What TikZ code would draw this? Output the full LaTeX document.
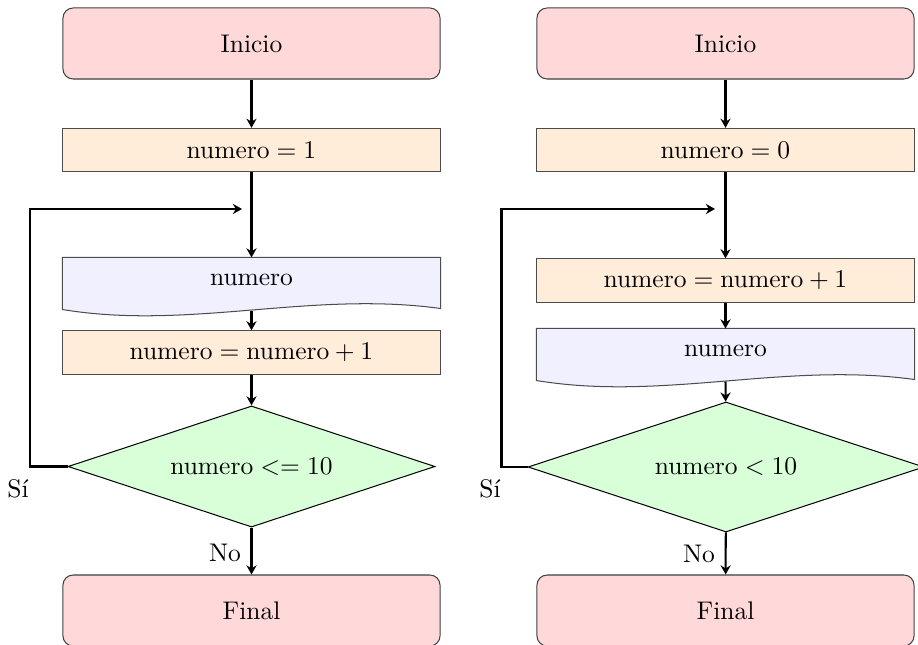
\documentclass[tikz,border=0pt]{standalone}
\usetikzlibrary{shapes.geometric,arrows.meta,backgrounds,calc}
\begin{document}
\begin{tikzpicture}[x=0.3922pt,y=-0.3922pt,
  term/.style={rectangle,rounded corners=4pt,draw=black!75,fill=red!15,minimum width=147.9pt,minimum height=27.85pt,inner sep=0pt,line width=0.4pt},
  proc/.style={rectangle,draw=black!70,fill=orange!15,minimum width=147.9pt,minimum height=17pt,inner sep=0pt,line width=0.4pt},
  docnode/.style={rectangle,minimum width=147.9pt,minimum height=20.4pt,inner sep=0pt,text depth=3pt},
  docshape/.style={draw=black!70,fill=blue!6,line width=0.4pt},
  dec/.style={diamond,draw=black,fill=green!15,aspect=3,inner sep=0pt,line width=0.4pt},
  arr/.style={-{Stealth[length=3.6pt,width=4pt,inset=1.2pt]},line width=0.8pt},
  lbl/.style={inner sep=0pt}]
\useasboundingbox (0,0) rectangle (918,645);

% ---------- left chart ----------
\node[term] (s1) at (251.5,43.5) {Inicio};
\node[proc] (p1) at (251.5,150) {$\mathrm{numero} = 1$};
\coordinate (j1) at (242,209);
\node[docnode] (d1) at (251.5,284) {numero};
\begin{scope}[on background layer]
\draw[docshape] (d1.north west) -- (d1.north east) -- ($(d1.south east)+(0,-2)$)
  .. controls ($(d1.south east)+(-130,-20)$) and ($(d1.south west)+(127,20)$) .. ($(d1.south west)+(0,-1)$) -- cycle;
\end{scope}
\node[proc] (p2) at (251.5,352.5) {$\mathrm{numero} = \mathrm{numero} + 1$};
\node[dec,minimum width=143.9pt,minimum height=47.5pt] (c1) at (251.5,466.5) {$\mathrm{numero} <= 10$};
\node[term] (e1) at (251.5,610.5) {Final};
\node[lbl] (si1) at (18,489) {Sí};
\node[lbl] (no1) at (225,553) {No};

\draw[arr] (s1) -- (p1);
\draw[arr] (p1) -- (d1);
\draw[arr] (d1.south) -- (p2);
\draw[arr] (p2) -- (c1);
\draw[arr] (c1) -- (e1);
\draw[arr] (c1.west) -- ++(-38,0) |- (j1);

% ---------- right chart ----------
\node[term] (s2) at (725.5,43.5) {Inicio};
\node[proc] (p3) at (725.5,150) {$\mathrm{numero} = 0$};
\coordinate (j2) at (715,209);
\node[proc] (p4) at (725.5,280.5) {$\mathrm{numero} = \mathrm{numero} + 1$};
\node[docnode] (d2) at (725.5,355) {numero};
\begin{scope}[on background layer]
\draw[docshape] (d2.north west) -- (d2.north east) -- ($(d2.south east)+(0,-2)$)
  .. controls ($(d2.south east)+(-130,-20)$) and ($(d2.south west)+(127,20)$) .. ($(d2.south west)+(0,-1)$) -- cycle;
\end{scope}
\node[dec,minimum width=155.3pt,minimum height=51pt] (c2) at (726,467) {$\mathrm{numero} < 10$};
\node[term] (e2) at (725.5,610.5) {Final};
\node[lbl] (si2) at (490,489) {Sí};
\node[lbl] (no2) at (699,554) {No};

\draw[arr] (s2) -- (p3);
\draw[arr] (p3) -- (p4);
\draw[arr] (p4) -- (d2);
\draw[arr] (d2.south) -- (c2);
\draw[arr] (c2) -- (e2);
\draw[arr] (c2.west) -- ++(-26,0) |- (j2);
\end{tikzpicture}
\end{document}
